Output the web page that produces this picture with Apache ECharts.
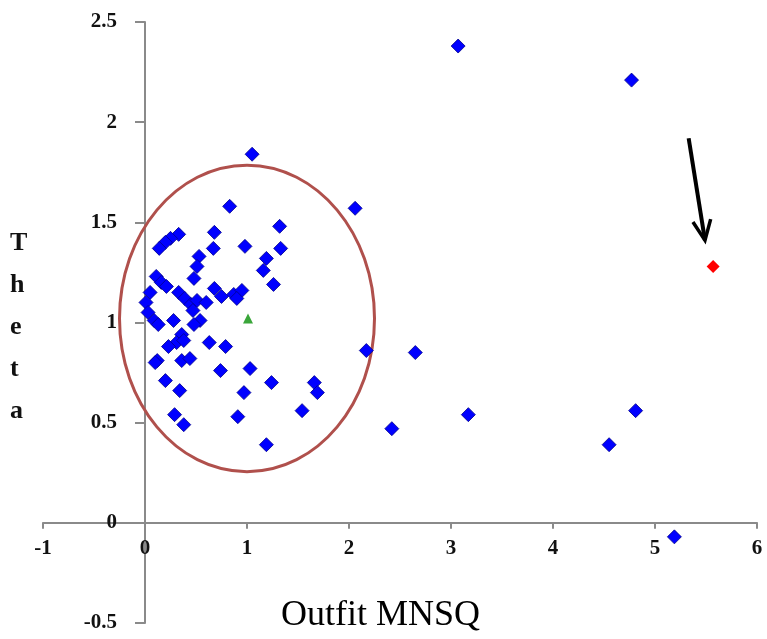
<!DOCTYPE html>
<html>
<head>
<meta charset="utf-8">
<script src="https://cdn.jsdelivr.net/npm/echarts@6/dist/echarts.min.js"></script>
<style>html,body{margin:0;padding:0;background:#fff;}#c{width:767px;height:639px;}</style>
</head>
<body>
<div id="c"></div>
<script>
// Blue items: [Outfit MNSQ, Theta]
const bluePoints = [
  [3.07,2.38],[4.77,2.21],[1.05,1.84],[2.06,1.57],[0.83,1.58],[1.32,1.48],[1.33,1.37],
  [0.98,1.38],[1.19,1.32],[1.16,1.26],[1.26,1.19],[0.68,1.45],[0.67,1.37],[0.33,1.44],
  [0.25,1.42],[0.20,1.40],[0.14,1.37],[0.53,1.33],[0.51,1.28],[0.48,1.22],[0.11,1.23],
  [0.16,1.20],[0.21,1.18],[0.05,1.15],[0.01,1.10],[0.03,1.05],[0.09,1.01],[0.13,0.99],
  [0.68,1.17],[0.75,1.13],[0.87,1.14],[0.95,1.16],[0.90,1.12],[0.33,1.15],[0.39,1.12],
  [0.45,1.09],[0.51,1.11],[0.60,1.10],[0.47,1.06],[0.54,1.01],[0.48,0.99],[0.28,1.01],
  [0.36,0.94],[0.31,0.90],[0.23,0.88],[0.38,0.91],[0.63,0.90],[0.79,0.88],[0.12,0.81],
  [0.10,0.80],[0.36,0.81],[0.44,0.82],[0.74,0.76],[1.03,0.77],[2.17,0.86],[2.65,0.85],
  [0.20,0.71],[0.34,0.66],[1.24,0.70],[1.66,0.70],[1.69,0.65],[0.97,0.65],[0.29,0.54],
  [0.38,0.49],[0.91,0.53],[1.54,0.56],[1.19,0.39],[2.42,0.47],[3.17,0.54],[4.81,0.56],
  [4.55,0.39],[5.19,-0.07]
];
const redPoints = [[5.57,1.28]];
const greenPoints = [[1.01,1.02]];
// ellipse annotation: [centerX, centerY, radiusX, radiusY] in data units
const ellipseData = [[1.0, 1.02, 1.25, 0.765]];
// arrow annotation: [startX, startY, tipX, tipY] in data units
const arrowData = [[5.33, 1.92, 5.49, 1.41]];
const xTicks = {min: -1, max: 6, interval: 1};
const yTicks = {min: -0.5, max: 2.5, interval: 0.5};
const xTitle = 'Outfit MNSQ';
const yTitle = 'Theta';

const serif = '"Liberation Serif", "DejaVu Serif", serif';
const chart = echarts.init(document.getElementById('c'));
const axisCol = '#8a8a8a';
chart.setOption({
  animation: false,
  backgroundColor: '#fff',
  grid: {left: 43, right: 10, top: 22, bottom: 16, containLabel: false, outerBoundsMode: 'none'},
  xAxis: {
    type: 'value', min: xTicks.min, max: xTicks.max, interval: xTicks.interval,
    splitLine: {show: false},
    axisLine: {onZero: false, lineStyle: {color: axisCol, width: 2}},
    axisTick: {length: 6, lineStyle: {color: axisCol, width: 2}},
    axisLabel: {margin: 15, color: '#111', fontSize: 21, fontWeight: 'bold', fontFamily: serif, showMinLabel: true, showMaxLabel: true}
  },
  yAxis: {
    type: 'value', min: yTicks.min, max: yTicks.max, interval: yTicks.interval,
    splitLine: {show: false},
    axisLine: {onZero: false, lineStyle: {color: axisCol, width: 2}},
    axisTick: {length: 10, lineStyle: {color: axisCol, width: 2}},
    axisLabel: {margin: 28, color: '#111', fontSize: 21, fontWeight: 'bold', fontFamily: serif}
  },
  graphic: [
    {type: 'text', left: 281, top: 598, z: 10,
     style: {text: xTitle, font: '36px ' + serif, fill: '#000'}},
    {type: 'text', left: 10, top: 222, z: 10,
     style: {text: yTitle.split('').join('\n'), font: 'bold 26px ' + serif, fill: '#111', lineHeight: 42, align: 'center'}}
  ],
  series: [
    {
      type: 'custom', z: 1, silent: true,
      data: ellipseData,
      renderItem: function (params, api) {
        const c = api.coord([api.value(0), api.value(1)]);
        const s = api.size([api.value(2), api.value(3)]);
        return {type: 'ellipse', shape: {cx: c[0], cy: c[1], rx: s[0], ry: s[1]},
                style: {fill: null, stroke: '#b0504c', lineWidth: 3}};
      }
    },
    {
      type: 'custom', z: 3, silent: true,
      data: arrowData,
      renderItem: function (params, api) {
        const a = api.coord([api.value(0), api.value(1)]);
        const b = api.coord([api.value(2), api.value(3)]);
        const ang = Math.atan2(b[1] - a[1], b[0] - a[0]);
        const L = 22, w = 0.42;
        const p1 = [b[0] - L * Math.cos(ang - w), b[1] - L * Math.sin(ang - w)];
        const p2 = [b[0] - L * Math.cos(ang + w), b[1] - L * Math.sin(ang + w)];
        return {type: 'group', children: [
          {type: 'line', shape: {x1: a[0], y1: a[1], x2: b[0], y2: b[1]}, style: {stroke: '#000', lineWidth: 4}},
          {type: 'polyline', shape: {points: [p1, b, p2]}, style: {stroke: '#000', lineWidth: 3.5, fill: null}}
        ]};
      }
    },
    {type: 'scatter', data: bluePoints, symbol: 'diamond', symbolSize: 14, z: 4,
     itemStyle: {color: '#0000ff', borderColor: '#00008a', borderWidth: 0.8, opacity: 1}},
    {type: 'scatter', data: redPoints, symbol: 'diamond', symbolSize: 13, z: 4,
     itemStyle: {color: '#ff0000', opacity: 1}},
    {type: 'scatter', data: greenPoints, symbol: 'triangle', symbolSize: 10, z: 4,
     itemStyle: {color: '#3aa63a', opacity: 1}}
  ]
});
// place the axes so they cross at zero, labels included
const origin = chart.convertToPixel({gridIndex: 0}, [0, 0]);
const gridRect = chart.getModel().getComponent('grid', 0).coordinateSystem.getRect();
chart.setOption({
  xAxis: {offset: -(gridRect.y + gridRect.height - origin[1])},
  yAxis: {offset: -(origin[0] - gridRect.x)}
});
</script>
</body>
</html>
